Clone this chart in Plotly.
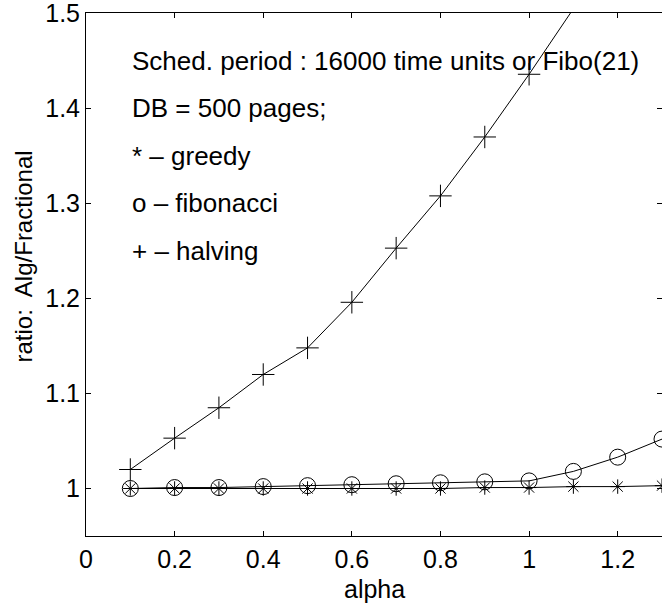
import plotly.graph_objects as go

alpha = [0.1, 0.2, 0.3, 0.4, 0.5, 0.6, 0.7, 0.8, 0.9, 1.0, 1.1, 1.2, 1.3]
greedy = [1.000, 1.000, 1.000, 1.000, 1.000, 1.000, 1.000, 1.000, 1.001, 1.001, 1.002, 1.002, 1.003]
fibonacci = [1.000, 1.001, 1.001, 1.002, 1.003, 1.004, 1.005, 1.006, 1.007, 1.008, 1.018, 1.033, 1.052]
alpha_halving = [0.1, 0.2, 0.3, 0.4, 0.5, 0.6, 0.7, 0.8, 0.9, 1.0, 1.1]
halving = [1.020, 1.053, 1.085, 1.120, 1.148, 1.196, 1.253, 1.308, 1.370, 1.436, 1.505]

xtick_vals = [0, 0.2, 0.4, 0.6, 0.8, 1.0, 1.2]
xtick_text = ["0", "0.2", "0.4", "0.6", "0.8", "1", "1.2"]
ytick_vals = [1.0, 1.1, 1.2, 1.3, 1.4, 1.5]
ytick_text = ["1", "1.1", "1.2", "1.3", "1.4", "1.5"]

notes = ["Sched. period : 16000 time units or Fibo(21)",
         "DB = 500 pages;",
         "* \u2013 greedy",
         "o \u2013 fibonacci",
         "+ \u2013 halving"]
note_y = [1.45, 1.40, 1.35, 1.30, 1.25]

FONT = "Liberation Sans, Arial, sans-serif"
FS = 25
XR = [0, 1.3]
YR = [0.95, 1.5005]

fig = go.Figure()
fig.add_trace(go.Scatter(x=alpha, y=greedy, mode="lines+markers",
                         line=dict(color="black", width=1),
                         marker=dict(symbol="asterisk-open", size=12,
                                     line=dict(color="black", width=1)),
                         cliponaxis=False, showlegend=False))
fig.add_trace(go.Scatter(x=alpha, y=fibonacci, mode="lines+markers",
                         line=dict(color="black", width=1),
                         marker=dict(symbol="circle-open", size=16, color="black",
                                     line=dict(color="black", width=1)),
                         cliponaxis=False, showlegend=False))
fig.add_trace(go.Scatter(x=alpha_halving, y=halving, mode="lines+markers",
                         line=dict(color="black", width=1),
                         marker=dict(symbol="cross-thin-open", size=16,
                                     line=dict(color="black", width=1)),
                         cliponaxis=True, showlegend=False))
# invisible trace to anchor the top/right frame axes
fig.add_trace(go.Scatter(x=[alpha[0]], y=[greedy[0]], xaxis="x2", yaxis="y2",
                         mode="markers", marker=dict(opacity=0),
                         hoverinfo="skip", showlegend=False))

for t, yv in zip(notes, note_y):
    fig.add_annotation(x=0.1, y=yv, xref="x", yref="y", text=t, showarrow=False,
                       xanchor="left", yanchor="middle",
                       font=dict(family=FONT, size=26, color="black"))

fig.add_annotation(x=0.5, y=0, xref="paper", yref="paper", text="alpha",
                   showarrow=False, xanchor="center", yanchor="middle", yshift=-53,
                   font=dict(family=FONT, size=FS, color="black"))
fig.add_annotation(x=0, y=0.5, xref="paper", yref="paper",
                   text="ratio:\u00a0 Alg/Fractional", textangle=-90,
                   showarrow=False, xanchor="center", yanchor="middle",
                   xshift=-63, yshift=18,
                   font=dict(family=FONT, size=24, color="black"))

axis_common = dict(showgrid=False, zeroline=False, showline=True, linecolor="black",
                   linewidth=1, ticks="inside", ticklen=5,
                   tickcolor="black", tickwidth=1,
                   tickfont=dict(family=FONT, size=FS, color="black"))

fig.update_layout(
    xaxis=dict(range=XR, tickmode="array", tickvals=xtick_vals, ticktext=xtick_text,
               ticklabelstandoff=1, ticklabeloverflow="allow", **axis_common),
    yaxis=dict(range=YR, tickmode="array", tickvals=ytick_vals, ticktext=ytick_text,
               ticklabelstandoff=0, ticklabeloverflow="allow", **axis_common),
    xaxis2=dict(range=XR, overlaying="x", side="top", anchor="y2",
                tickmode="array", tickvals=xtick_vals, showticklabels=False,
                **axis_common),
    yaxis2=dict(range=YR, overlaying="y", side="right", anchor="x2",
                tickmode="array", tickvals=ytick_vals, showticklabels=False,
                **axis_common),
    width=662, height=605,
    margin=dict(l=86, r=0, t=13, b=69, pad=0),
    paper_bgcolor="white", plot_bgcolor="white",
    font=dict(family=FONT, size=FS, color="black"))

fig.write_html("out.html")
